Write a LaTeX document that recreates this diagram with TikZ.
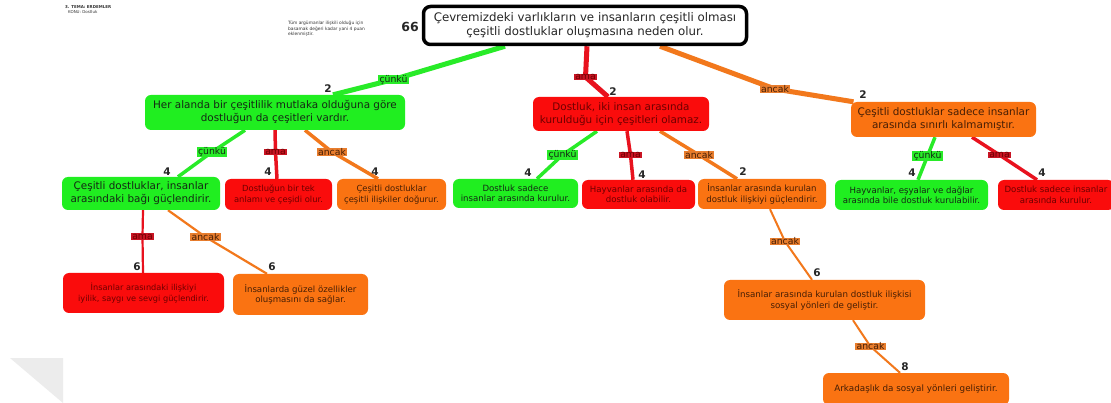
\documentclass[tikz,border=0pt]{standalone}
\usepackage{fontspec}
\setmainfont{DejaVu Sans}
\usetikzlibrary{backgrounds}
\definecolor{gfill}{RGB}{32,238,32}
\definecolor{rfill}{RGB}{250,12,12}
\definecolor{ofill}{RGB}{250,115,18}
\definecolor{gline}{RGB}{40,235,40}
\definecolor{rline}{RGB}{232,18,30}
\definecolor{oline}{RGB}{242,120,28}
\definecolor{gtext}{RGB}{20,40,20}
\definecolor{rtext}{RGB}{110,0,0}
\definecolor{otext}{RGB}{70,30,5}
\definecolor{rlab}{RGB}{200,20,35}
\definecolor{olab}{RGB}{232,125,45}
\definecolor{pagegray}{RGB}{236,236,236}
\newcommand{\fsz}[2]{\fontsize{#1}{#2}\selectfont}
\begin{document}
\begin{tikzpicture}[x=1pt,y=-1pt,
  box/.style={rounded corners=6pt, align=center, inner sep=2pt},
  gbox/.style={box, fill=gfill, text=gtext},
  rbox/.style={box, fill=rfill, text=rtext},
  obox/.style={box, fill=ofill, text=otext},
  lab/.style={inner xsep=1.5pt, inner ysep=0.4pt, font=\fsz{9.3}{10}},
  glab/.style={lab, fill=gline, text=gtext},
  rlab/.style={lab, fill=rlab, text=rtext},
  olab/.style={lab, fill=olab, text=otext},
  num/.style={inner sep=0pt, font=\fsz{10.5}{12}\bfseries, text=black!85},
  gedge/.style={draw=gline, line join=round},
  redge/.style={draw=rline, line join=round},
  oedge/.style={draw=oline, line join=round},
  tiny/.style={inner sep=0pt, align=left, anchor=north west, font=\fsz{4}{5}\bfseries, text=black!80}
]
\useasboundingbox (0,0) rectangle (1111,403);
\begin{scope}[on background layer]
  \fill[white] (0,0) rectangle (1111,403);
  \fill[pagegray] (10,358) -- (63,358) -- (63,403) -- cycle;
\end{scope}

% header texts
\node[tiny] (tema) at (65,5) {3. TEMA: ERDEMLER\\\hspace*{3pt}\mdseries KONU: Dostluk};
\node[tiny, font=\fsz{4.4}{5.6}] (note) at (288,21) {Tüm argümanlar ilişkili olduğu için\\basamak değeri kadar yani 4 puan\\eklenmiştir.};

% root claim
\node[box, draw=black, line width=3.5pt, fill=white, rounded corners=7pt, text=black!85,
      minimum width=323pt, minimum height=38pt, font=\fsz{11.8}{14}] (root) at (585,25.5)
  {Çevremizdeki varlıkların ve insanların çeşitli olması\\çeşitli dostluklar oluşmasına neden olur.};
\node[num, font=\fsz{12.5}{14}\bfseries] (n0) at (410,27) {66};

% first level
\node[gbox, minimum width=260pt, minimum height=35pt, font=\fsz{10.4}{13}] (A) at (275,112.5)
  {Her alanda bir çeşitlilik mutlaka olduğuna göre\\dostluğun da çeşitleri vardır.};
\node[rbox, minimum width=176pt, minimum height=34pt, font=\fsz{10.4}{13}] (B) at (621,114)
  {Dostluk, iki insan arasında\\kurulduğu için çeşitleri olamaz.};
\node[obox, minimum width=185pt, minimum height=35pt, font=\fsz{10.4}{13}] (C) at (943.5,119.5)
  {Çeşitli dostluklar sadece insanlar\\arasında sınırlı kalmamıştır.};
\node[num] (nA) at (328,89) {2};
\node[num] (nB) at (613,92) {2};
\node[num] (nC) at (863,95) {2};

\node[glab] (lA) at (393.5,79.5) {çünkü};
\node[rlab] (lB) at (585.5,77) {ama};
\node[olab] (lC) at (775,89) {ancak};

% second level under A
\node[gbox, minimum width=158pt, minimum height=33pt, font=\fsz{10.4}{13}] (A1) at (141,193.5)
  {Çeşitli dostluklar, insanlar\\arasındaki bağı güçlendirir.};
\node[rbox, minimum width=107pt, minimum height=31pt, font=\fsz{8.4}{10.5}] (A2) at (278.5,194.5)
  {Dostluğun bir tek\\anlamı ve çeşidi olur.};
\node[obox, minimum width=109pt, minimum height=31pt, font=\fsz{8.4}{10.5}] (A3) at (391.5,194.5)
  {Çeşitli dostluklar\\çeşitli ilişkiler doğurur.};
\node[num] (nA1) at (167,172) {4};
\node[num] (nA2) at (268,172) {4};
\node[num] (nA3) at (375,172) {4};
\node[glab] (lA1) at (212,152) {çünkü};
\node[rlab] (lA2) at (275.5,152) {ama};
\node[olab] (lA3) at (332,152) {ancak};

% second level under B
\node[gbox, minimum width=125pt, minimum height=29pt, font=\fsz{8.6}{10.5}] (B1) at (515.5,193.5)
  {Dostluk sadece\\insanlar arasında kurulur.};
\node[rbox, minimum width=113pt, minimum height=29pt, font=\fsz{8.6}{10.5}] (B2) at (638.5,194.5)
  {Hayvanlar arasında da\\dostluk olabilir.};
\node[obox, minimum width=128pt, minimum height=30pt, font=\fsz{8.6}{10.5}] (B3) at (762,194)
  {İnsanlar arasında kurulan\\dostluk ilişkiyi güçlendirir.};
\node[num] (nB1) at (528,173) {4};
\node[num] (nB2) at (642,175) {4};
\node[num] (nB3) at (743,172) {2};
\node[glab] (lB1) at (562.5,155) {çünkü};
\node[rlab] (lB2) at (630.5,155) {ama};
\node[olab] (lB3) at (699,155) {ancak};

% second level under C
\node[gbox, minimum width=153pt, minimum height=30pt, font=\fsz{8.6}{10.5}] (C1) at (911.5,195)
  {Hayvanlar, eşyalar ve dağlar\\arasında bile dostluk kurulabilir.};
\node[rbox, minimum width=116pt, minimum height=30pt, font=\fsz{8.6}{10.5}] (C2) at (1056,195)
  {Dostluk sadece insanlar\\arasında kurulur.};
\node[num] (nC1) at (912,173) {4};
\node[num] (nC2) at (1042,173) {4};
\node[glab] (lC1) at (927.5,156) {çünkü};
\node[rlab] (lC2) at (999.5,155) {ama};

% third level under A1
\node[rbox, minimum width=161pt, minimum height=40pt, font=\fsz{8.2}{10.5}] (A1a) at (143.5,293)
  {İnsanlar arasındaki ilişkiyi\\iyilik, saygı ve sevgi güçlendirir.};
\node[obox, minimum width=135pt, minimum height=41pt, font=\fsz{8.6}{10.5}] (A1b) at (300.5,294.5)
  {İnsanlarda güzel özellikler\\oluşmasını da sağlar.};
\node[num] (nA1a) at (137,267) {6};
\node[num] (nA1b) at (272,267) {6};
\node[rlab] (lA1a) at (142.5,236.5) {ama};
\node[olab] (lA1b) at (205.5,237) {ancak};

% chain under B3
\node[obox, minimum width=201pt, minimum height=40pt, font=\fsz{8.7}{10.5}] (B3a) at (824.5,300)
  {İnsanlar arasında kurulan dostluk ilişkisi\\sosyal yönleri de geliştir.};
\node[num] (nB3a) at (817,273) {6};
\node[olab] (lB3a) at (785,241.5) {ancak};
\node[obox, minimum width=186pt, minimum height=32pt, font=\fsz{8.8}{10.5}] (B3b) at (916,389)
  {Arkadaşlık da sosyal yönleri geliştirir.};
\node[num] (nB3b) at (905,367) {8};
\node[olab] (lB3b) at (870.5,346.5) {ancak};

% connectors
\begin{scope}[on background layer]
  \draw[gedge, line width=5pt] ([xshift=-80pt]root.south) -- (lA.center) -- ([xshift=58pt]A.north);
  \draw[redge, line width=5pt] ([xshift=2pt]root.south) -- (lB.center) -- ([xshift=-13pt]B.north);
  \draw[oedge, line width=5pt] ([xshift=75pt]root.south) -- (lC.center) -- ([xshift=-90pt]C.north);

  \draw[gedge, line width=3.5pt] ([xshift=-30pt]A.south) -- (lA1.center) -- ([xshift=37pt]A1.north);
  \draw[redge, line width=3.5pt] ([xshift=0pt]A.south) -- (lA2.center) -- ([xshift=-1.5pt]A2.north);
  \draw[oedge, line width=3.5pt] ([xshift=30pt]A.south) -- (lA3.center) -- ([xshift=-13.5pt]A3.north);

  \draw[gedge, line width=3.5pt] ([xshift=-24pt]B.south) -- (lB1.center) -- ([xshift=21.5pt]B1.north);
  \draw[redge, line width=3.5pt] ([xshift=6pt]B.south) -- (lB2.center) -- ([xshift=-5.5pt]B2.north);
  \draw[oedge, line width=3.5pt] ([xshift=39pt]B.south) -- (lB3.center) -- ([xshift=-25pt]B3.north);

  \draw[gedge, line width=3.5pt] ([xshift=-8.5pt]C.south) -- (lC1.center) -- ([xshift=6.5pt]C1.north);
  \draw[redge, line width=3.5pt] ([xshift=28.5pt]C.south) -- (lC2.center) -- ([xshift=-19pt]C2.north);

  \draw[redge, line width=2.2pt] ([xshift=2pt]A1.south) -- (lA1a.center) -- ([xshift=-0.5pt]A1a.north);
  \draw[oedge, line width=2.2pt] ([xshift=27pt]A1.south) -- (lA1b.center) -- ([xshift=-33.5pt]A1b.north);

  \draw[oedge, line width=2pt] ([xshift=8pt]B3.south) -- (lB3a.center) -- ([xshift=-12.5pt]B3a.north);
  \draw[oedge, line width=2pt] ([xshift=28.5pt]B3a.south) -- (lB3b.center) -- ([xshift=-16pt]B3b.north);
\end{scope}
\end{tikzpicture}
\end{document}
